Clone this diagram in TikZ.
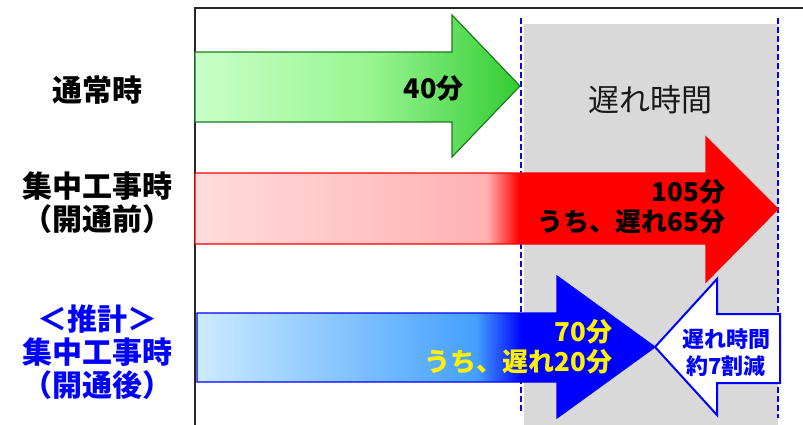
\documentclass[tikz,border=0pt]{standalone}
\usepackage{fontspec}
\setmainfont{Noto Sans CJK JP}
\usepackage{tikz}

\definecolor{grLeft}{HTML}{C8FFC8}
\definecolor{grMid}{HTML}{98F590}
\definecolor{grRight}{HTML}{33CC33}
\definecolor{grLine}{HTML}{1E7B1E}
\definecolor{rdLeft}{HTML}{FFDCDC}
\definecolor{rdMid}{HTML}{FFB2B2}
\definecolor{blLeft}{HTML}{CCEBFF}
\definecolor{blMid}{HTML}{44A0FF}
\definecolor{delayGray}{HTML}{D9D9D9}

\pgfdeclarehorizontalshading{greenfade}{100bp}{color(0bp)=(grLeft); color(25bp)=(grLeft); color(52bp)=(grMid); color(75bp)=(grRight); color(100bp)=(grRight)}
\pgfdeclarehorizontalshading{redfade}{100bp}{color(0bp)=(rdLeft); color(25bp)=(rdLeft); color(50bp)=(rdMid); color(52.8bp)=(red); color(75bp)=(red); color(100bp)=(red)}
\pgfdeclarehorizontalshading{bluefade}{100bp}{color(0bp)=(blLeft); color(25bp)=(blLeft); color(55.5bp)=(blMid); color(60.5bp)=(blue); color(75bp)=(blue); color(100bp)=(blue)}

\begin{document}
\begin{tikzpicture}[x=1pt, y=-1pt,
    rowlabel/.style={align=center, font=\fontsize{30}{33}\selectfont\bfseries},
    barlabel/.style={anchor=east, align=right, font=\fontsize{26}{30}\selectfont\bfseries}]
      \useasboundingbox (0,0) rectangle (803,425);

      % Delay zone
      \fill[delayGray] (524,24) rectangle (778,425);
      \draw[blue, line width=2pt, dash pattern=on 6pt off 3pt] (521,18) -- (521,414);
      \draw[blue, line width=2pt, dash pattern=on 6pt off 3pt] (778,18) -- (778,418);

      % Frame
      \draw[line width=1.5pt, black!85] (195,425) -- (195,8) -- (803,8);

      % Arrows
      \shade[shading=greenfade, draw=grLine, line width=1.2pt]
        (195,52) -- (452,52) -- (452,15) -- (520,86) -- (452,157) -- (452,122) -- (195,122) -- cycle;
      \shade[shading=redfade, draw=red, line width=1.2pt]
        (195,173) -- (706,173) -- (706,137) -- (778,209) -- (706,282) -- (706,244) -- (195,244) -- cycle;
      \shade[shading=bluefade, draw=blue, line width=1.2pt]
        (197,313) -- (557,313) -- (557,276) -- (655,347) -- (557,418) -- (557,382) -- (197,382) -- cycle;
      \draw[fill=white, draw=blue, line width=2pt]
        (655,347) -- (717,279) -- (717,314) -- (780,314) -- (780,383) -- (717,383) -- (717,415) -- cycle;

      % Texts
      \node[rowlabel] (normal) at (97,90) {通常時};
      \node[rowlabel] (before) at (97,203) {集中工事時\\（開通前）};
      \node[rowlabel, text=blue] (after) at (97,352) {＜推計＞\\集中工事時\\（開通後）};

      \node[barlabel, font=\fontsize{27}{30}\selectfont\bfseries] (t40) at (467,88) {40分};
      \node[font=\fontsize{31}{34}\selectfont, text=black!90] (delay) at (650,100) {遅れ時間};
      \node[barlabel] (t105) at (729,207) {105分\\うち、遅れ65分};
      \node[barlabel, text=yellow] (t70) at (616,347) {70分\\うち、遅れ20分};
      \node[align=center, text=blue, font=\fontsize{22}{27}\selectfont\bfseries] (cut) at (726,353) {遅れ時間\\約7割減};
\end{tikzpicture}
\end{document}
